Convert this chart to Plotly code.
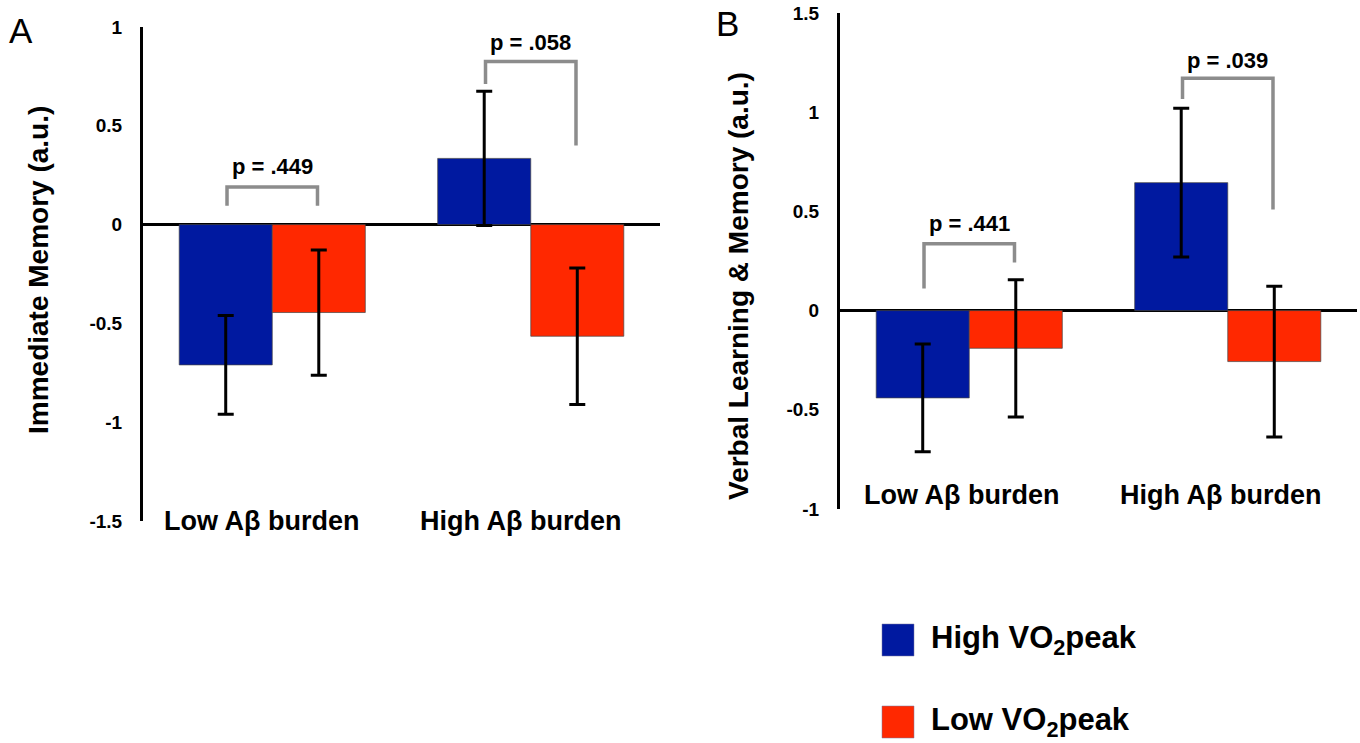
import plotly.graph_objects as go

# ---------------- data ----------------
categories = ["Low Aβ burden", "High Aβ burden"]
series_names = ["High VO<sub>2</sub>peak", "Low VO<sub>2</sub>peak"]

# Panel A: Immediate Memory
a_high = [-0.71, 0.335]
a_high_err = [0.25, 0.34]
a_low = [-0.445, -0.565]
a_low_err = [0.317, 0.345]

# Panel B: Verbal Learning & Memory
b_high = [-0.44, 0.645]
b_high_err = [0.272, 0.375]
b_low = [-0.19, -0.257]
b_low_err = [0.346, 0.38]

# p-value brackets: [top, left end, right end, label y]
a_pvals = ["p = .449", "p = .058"]
a_brackets = [[0.19, 0.095, 0.095, 0.295], [0.825, 0.712, 0.40, 0.92]]
b_pvals = ["p = .441", "p = .039"]
b_brackets = [[0.337, 0.112, 0.242, 0.44], [1.171, 1.067, 0.51, 1.263]]

a_ticks = [-1.5, -1, -0.5, 0, 0.5, 1]
a_ticktext = ["-1.5", "-1", "-0.5", "0", "0.5", "1"]
b_ticks = [-1, -0.5, 0, 0.5, 1, 1.5]
b_ticktext = ["-1", "-0.5", "0", "0.5", "1", "1.5"]

BLUE = "#0019A0"
RED = "#FF2800"
GRAY = "#8c8c8c"
FONT = "Liberation Sans, Arial, sans-serif"
W, H = 1360, 743

def px(x):
    return x / W

def py(y):
    return 1 - y / H

xpos = [0, 1]

fig = go.Figure()

def add_bars(vals, errs, color, name, xa, ya):
    fig.add_trace(go.Bar(
        x=xpos, y=vals, name=name, marker=dict(color=color, line=dict(color="rgba(70,70,70,0.7)", width=1)),
        error_y=dict(type="data", array=errs, visible=True, color="black", thickness=3, width=8),
        xaxis=xa, yaxis=ya, showlegend=False, offsetgroup=name,
    ))

add_bars(a_high, a_high_err, BLUE, series_names[0], "x", "y")
add_bars(a_low, a_low_err, RED, series_names[1], "x", "y")
add_bars(b_high, b_high_err, BLUE, series_names[0], "x2", "y2")
add_bars(b_low, b_low_err, RED, series_names[1], "x2", "y2")

yaxis_common = dict(
    showline=True, linewidth=3, linecolor="black", showgrid=False,
    zeroline=True, zerolinewidth=3, zerolinecolor="black", automargin=False,
    ticks="", tickfont=dict(family=FONT, size=19, color="black", weight="bold"),
    ticklabelstandoff=14,
)
xaxis_common = dict(range=[-0.5, 1.5], showticklabels=False, showgrid=False, zeroline=False,
                    showline=False, ticks="", automargin=False)

fig.update_layout(
    template="none",
    width=W, height=H, margin=dict(l=0, r=0, t=0, b=0, pad=0), autosize=False,
    paper_bgcolor="white", plot_bgcolor="white",
    barmode="group", bargap=0.28, bargroupgap=0,
    xaxis=dict(domain=[px(143), px(660)], anchor="y", **xaxis_common),
    yaxis=dict(domain=[py(521), py(27)], anchor="x", range=[-1.5, 1],
               tickvals=a_ticks, ticktext=a_ticktext, **yaxis_common),
    xaxis2=dict(domain=[px(840), px(1357)], anchor="y2", **xaxis_common),
    yaxis2=dict(domain=[py(509), py(13)], anchor="x2", range=[-1, 1.5],
                tickvals=b_ticks, ticktext=b_ticktext, **yaxis_common),
    font=dict(family=FONT, color="black"),
    showlegend=False,
)

shapes = []
annotations = []

def add_brackets(pvals, brackets, xr, yr):
    for i, (lab, (top, lend, rend, ly)) in enumerate(zip(pvals, brackets)):
        x0, x1 = xpos[i] - 0.175, xpos[i] + 0.175
        shapes.append(dict(type="path", xref=xr, yref=yr,
                           path=f"M {x0} {lend} L {x0} {top} L {x1} {top} L {x1} {rend}",
                           line=dict(color=GRAY, width=3.5)))
        annotations.append(dict(text=lab, x=xpos[i], y=ly, xref=xr, yref=yr, showarrow=False,
                                xanchor="center", yanchor="middle",
                                font=dict(family=FONT, size=22, color="black", weight="bold")))

add_brackets(a_pvals, a_brackets, "x", "y")
add_brackets(b_pvals, b_brackets, "x2", "y2")

# category labels
for i, c in enumerate(categories):
    annotations.append(dict(text=c, x=xpos[i] - 0.04, y=-1.5, xref="x", yref="y", showarrow=False,
                            xanchor="center", yanchor="middle",
                            font=dict(family=FONT, size=27, color="black", weight="bold")))
    annotations.append(dict(text=c, x=xpos[i] - 0.03, y=-0.93, xref="x2", yref="y2", showarrow=False,
                            xanchor="center", yanchor="middle",
                            font=dict(family=FONT, size=27, color="black", weight="bold")))

# axis titles
annotations.append(dict(text="Immediate Memory (a.u.)", x=px(38), y=py(270), xref="paper", yref="paper",
                        showarrow=False, textangle=-90, xanchor="center", yanchor="middle",
                        font=dict(family=FONT, size=28, color="black", weight="bold")))
annotations.append(dict(text="Verbal Learning & Memory (a.u.)", x=px(738), y=py(286), xref="paper",
                        yref="paper", showarrow=False, textangle=-90, xanchor="center", yanchor="middle",
                        font=dict(family=FONT, size=28, color="black", weight="bold")))

# panel letters
annotations.append(dict(text="A", x=px(21), y=py(30), xref="paper", yref="paper", showarrow=False,
                        xanchor="center", yanchor="middle",
                        font=dict(family=FONT, size=35, color="black")))
annotations.append(dict(text="B", x=px(727), y=py(24), xref="paper", yref="paper", showarrow=False,
                        xanchor="center", yanchor="middle",
                        font=dict(family=FONT, size=35, color="black")))

# legend
legend_colors = [BLUE, RED]
legend_y = [640, 722]
for name, col, yc in zip(series_names, legend_colors, legend_y):
    shapes.append(dict(type="rect", xref="paper", yref="paper",
                       x0=px(882), x1=px(914), y0=py(yc + 16), y1=py(yc - 16),
                       fillcolor=col, line=dict(color="rgba(120,120,160,0.5)", width=1)))
    annotations.append(dict(text=name, x=px(929), y=py(yc), xref="paper", yref="paper",
                            xanchor="left", yanchor="middle", showarrow=False,
                            font=dict(family=FONT, size=31, color="black", weight="bold")))

fig.update_layout(shapes=shapes, annotations=annotations)
fig.write_html("out.html", config={"displayModeBar": False},
               post_script="document.body.style.margin='0';document.body.style.overflow='hidden';")
